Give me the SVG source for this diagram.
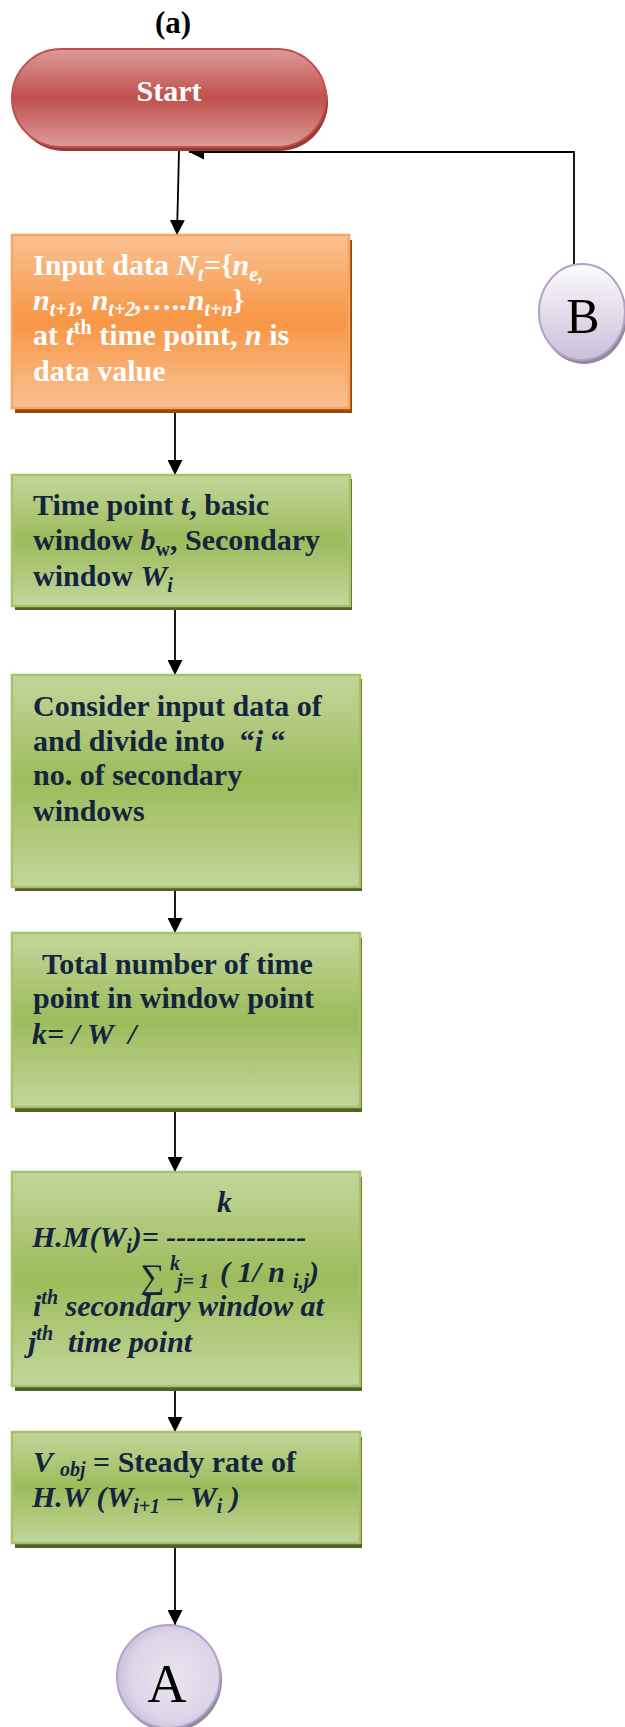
<svg xmlns="http://www.w3.org/2000/svg" width="625" height="1727" viewBox="0 0 625 1727">
  <defs>
    <linearGradient id="gRed" x1="0" y1="0" x2="0" y2="1">
      <stop offset="0" stop-color="#dc9b99"/>
      <stop offset="0.5" stop-color="#c0504d"/>
      <stop offset="1" stop-color="#dc9b99"/>
    </linearGradient>
    <linearGradient id="gOrange" x1="0" y1="0" x2="0" y2="1">
      <stop offset="0" stop-color="#fac192"/>
      <stop offset="0.5" stop-color="#f79646"/>
      <stop offset="1" stop-color="#fac192"/>
    </linearGradient>
    <linearGradient id="gGreen" x1="0" y1="0" x2="0" y2="1">
      <stop offset="0" stop-color="#c3d69b"/>
      <stop offset="0.5" stop-color="#9dbb5b"/>
      <stop offset="1" stop-color="#c3d69b"/>
    </linearGradient>
    <linearGradient id="gLilac" x1="0" y1="0" x2="0" y2="1">
      <stop offset="0" stop-color="#fcfbfd"/>
      <stop offset="1" stop-color="#cbbfda"/>
    </linearGradient>
    <radialGradient id="gLilacR" cx="0.55" cy="0.5" r="0.6">
      <stop offset="0" stop-color="#e9e4f0"/>
      <stop offset="0.7" stop-color="#ddd5e8"/>
      <stop offset="1" stop-color="#c4b7d6"/>
    </radialGradient>
    <marker id="arrow" markerUnits="userSpaceOnUse" markerWidth="15" markerHeight="15" refX="15" refY="7.5" orient="auto">
      <path d="M0,0 L15,7.5 L0,15 Z" fill="#000"/>
    </marker>
  </defs>
  <style>
    .t{font-family:"Liberation Serif","Times New Roman",serif;font-weight:bold;font-size:30px;fill:#14243f}
    .w{fill:#ffffff}
    .i{font-style:italic}
    .s{font-size:20px}
    .n{font-weight:normal}
    .box-g{fill:url(#gGreen);stroke:#a6c36a;stroke-width:2.5}
    .sh-g{fill:#4f6228}
    .edge{fill:none;stroke:#000;stroke-width:1.8}
  </style>

  <text class="t" x="173" y="33" text-anchor="middle" style="font-size:31px;fill:#000">(a)</text>

  <!-- connectors -->
  <g id="connectors">
    <path class="edge" d="M179,150 L177,235" marker-end="url(#arrow)"/>
    <path class="edge" d="M574,264 L574,152 L189,152" marker-end="url(#arrow)"/>
    <path class="edge" d="M175,413 L175,475" marker-end="url(#arrow)"/>
    <path class="edge" d="M175,610 L175,675" marker-end="url(#arrow)"/>
    <path class="edge" d="M175,891 L175,933" marker-end="url(#arrow)"/>
    <path class="edge" d="M175,1112 L175,1172" marker-end="url(#arrow)"/>
    <path class="edge" d="M175,1391 L175,1432" marker-end="url(#arrow)"/>
    <path class="edge" d="M175,1548 L175,1625" marker-end="url(#arrow)"/>
  </g>

  <!-- terminal: Start -->
  <g id="start">
    <rect x="15" y="53" width="313" height="98" rx="49" fill="#9a3a38"/>
    <rect x="12" y="49" width="314" height="98" rx="49" fill="url(#gRed)" stroke="#c0504d" stroke-width="2"/>
    <text class="t w" x="169" y="101" text-anchor="middle">Start</text>
  </g>

  <!-- input data -->
  <g id="input">
    <rect x="15" y="240" width="337" height="173" fill="#984807"/>
    <rect x="12" y="235" width="337" height="173" fill="url(#gOrange)" stroke="#f7a560" stroke-width="2.5"/>
    <text class="t w" x="33" y="275">Input data <tspan class="i">N</tspan><tspan class="i s" dy="6">t</tspan><tspan dy="-6">={</tspan><tspan class="i">n</tspan><tspan class="i s" dy="6">e,</tspan></text>
    <text class="t w" x="33" y="310"><tspan class="i">n</tspan><tspan class="i s" dy="6">t+1</tspan><tspan class="i" dy="-6">, n</tspan><tspan class="i s" dy="6">t+2</tspan><tspan class="i" dy="-6">,…..n</tspan><tspan class="i s" dy="6">t+n</tspan><tspan dy="-6">}</tspan></text>
    <text class="t w" x="33" y="345">at <tspan class="i">t</tspan><tspan class="s" dy="-11">th</tspan><tspan dy="11"> time point, </tspan><tspan class="i">n</tspan> is</text>
    <text class="t w" x="33" y="381">data value</text>
  </g>

  <!-- parameters -->
  <g id="params">
    <rect class="sh-g" x="15" y="479" width="337" height="131"/>
    <rect class="box-g" x="12" y="475" width="338" height="131"/>
    <text class="t" x="33" y="515">Time point <tspan class="i">t</tspan>, basic</text>
    <text class="t" x="33" y="550">window <tspan class="i">b</tspan><tspan class="s" dy="6">w</tspan><tspan dy="-6">, Secondary</tspan></text>
    <text class="t" x="33" y="586">window <tspan class="i">W</tspan><tspan class="i s" dy="6">i</tspan></text>
  </g>

  <!-- divide into secondary windows -->
  <g id="divide">
    <rect class="sh-g" x="15" y="679" width="347" height="212"/>
    <rect class="box-g" x="12" y="675" width="348" height="212"/>
    <text class="t" x="33" y="716">Consider input data of</text>
    <text class="t" x="33" y="751" xml:space="preserve">and divide into  “<tspan class="i">i</tspan> “</text>
    <text class="t" x="33" y="785">no. of secondary</text>
    <text class="t" x="33" y="821">windows</text>
  </g>

  <!-- time points in window -->
  <g id="count">
    <rect class="sh-g" x="15" y="938" width="347" height="174"/>
    <rect class="box-g" x="12" y="933" width="348" height="174"/>
    <text class="t" x="42" y="974">Total number of time</text>
    <text class="t" x="33" y="1008">point in window point</text>
    <text class="t i" x="32" y="1044" xml:space="preserve">k= / W  /</text>
  </g>

  <!-- harmonic mean -->
  <g id="harmonic">
    <rect class="sh-g" x="15" y="1177" width="347" height="214"/>
    <rect class="box-g" x="12" y="1172" width="348" height="214"/>
    <text class="t i" x="217" y="1212">k</text>
    <text class="t i" x="32" y="1247">H.M(W<tspan class="s" dy="6">i</tspan><tspan dy="-6">)= --------------</tspan></text>
    <text class="t n" x="140" y="1288" style="font-size:34px">∑</text>
    <text class="t i s" x="170" y="1270">k</text>
    <text class="t i s" x="177" y="1288">j= 1</text>
    <text class="t i" x="220" y="1282" xml:space="preserve">( 1/ n</text>
    <text class="t i s" x="293" y="1288">i,j</text>
    <text class="t i" x="309" y="1282">)</text>
    <text class="t i" x="33" y="1316">i<tspan class="s" dy="-12">th</tspan><tspan dy="12"> secondary window at</tspan></text>
    <text class="t i" x="28" y="1352" xml:space="preserve">j<tspan class="s" dy="-12">th</tspan><tspan dy="12">  time point</tspan></text>
  </g>

  <!-- objective value -->
  <g id="vobj">
    <rect class="sh-g" x="15" y="1437" width="347" height="111"/>
    <rect class="box-g" x="12" y="1432" width="348" height="111"/>
    <text class="t" x="33" y="1472"><tspan class="i">V </tspan><tspan class="i s" dy="4">obj</tspan><tspan dy="-4"> = Steady rate of</tspan></text>
    <text class="t i" x="32" y="1507">H.W (W<tspan class="s" dy="6">i+1</tspan><tspan class="n" dy="-6"> – </tspan>W<tspan class="s" dy="6">i</tspan><tspan dy="-6"> )</tspan></text>
  </g>

  <!-- off-page connector A -->
  <g id="connA">
    <circle cx="170.5" cy="1680" r="51.5" fill="#8f8a9c"/>
    <circle cx="168.5" cy="1676.5" r="51.5" fill="url(#gLilacR)" stroke="#b3a2c7" stroke-width="2"/>
    <text x="167" y="1702" text-anchor="middle" font-family="'Liberation Serif','Times New Roman',serif" font-size="54" fill="#000">A</text>
  </g>

  <!-- off-page connector B -->
  <g id="connB">
    <ellipse cx="584" cy="316" rx="43" ry="48" fill="#8f8a9c"/>
    <ellipse cx="582" cy="312" rx="43" ry="48" fill="url(#gLilac)" stroke="#b3a2c7" stroke-width="2"/>
    <text x="583" y="333" text-anchor="middle" font-family="'Liberation Serif','Times New Roman',serif" font-size="50" fill="#000">B</text>
  </g>
</svg>
